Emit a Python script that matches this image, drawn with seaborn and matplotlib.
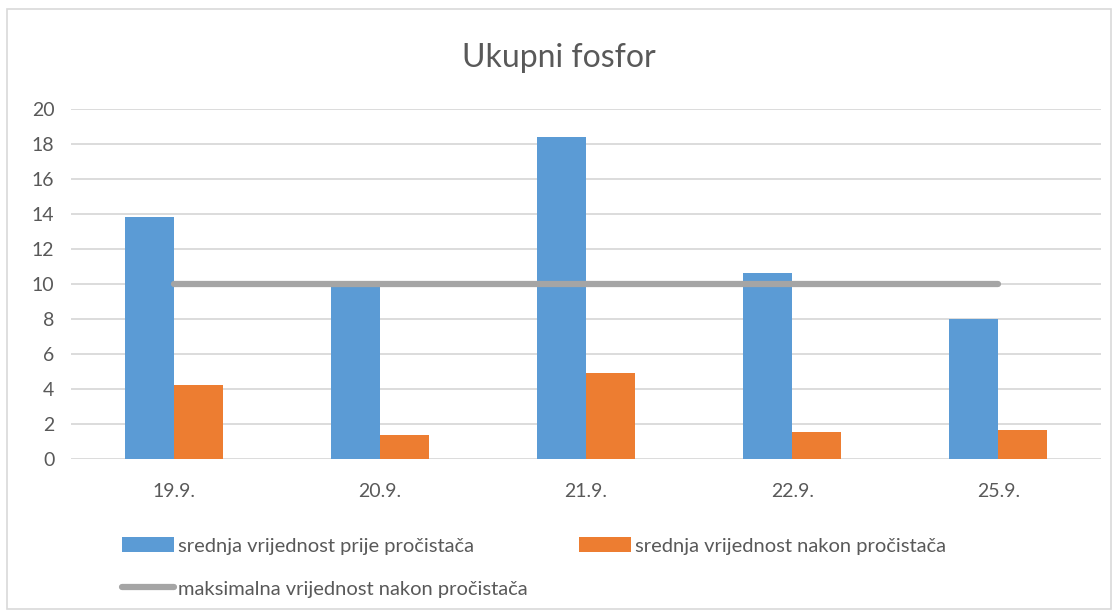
import matplotlib
matplotlib.use("Agg")
import matplotlib.pyplot as plt
import seaborn as sns
import pandas as pd
from matplotlib.patches import Patch, Rectangle
from matplotlib.lines import Line2D

dates = ["19.9.", "20.9.", "21.9.", "22.9.", "25.9."]
prije = [13.8, 9.85, 18.38, 10.6, 8.0]
nakon = [4.23, 1.37, 4.9, 1.52, 1.68]
maks = [10, 10, 10, 10, 10]
s1 = "srednja vrijednost prije pročistača"
s2 = "srednja vrijednost nakon pročistača"
s3 = "maksimalna vrijednost nakon pročistača"
yticks = [0, 2, 4, 6, 8, 10, 12, 14, 16, 18, 20]

BLUE, ORANGE, GRAY = "#5B9BD5", "#ED7D31", "#A5A5A5"
TXT = "#595959"

sns.set_theme(style="white")
plt.rcParams["font.family"] = ["Lato", "DejaVu Sans"]

df = pd.DataFrame({
    "date": dates * 2,
    "serija": [s1] * len(dates) + [s2] * len(dates),
    "vrijednost": prije + nakon,
})

fig = plt.figure(figsize=(11.18, 6.15), dpi=100)
ax = fig.add_axes([0.0635, 0.2537, 0.9215, 0.5691])

ax.yaxis.grid(True, color="#D9D9D9", linewidth=1.3)
ax.set_axisbelow(True)
sns.barplot(data=df, x="date", y="vrijednost", hue="serija", order=dates,
            palette=[BLUE, ORANGE], saturation=1, width=0.476, gap=0, ax=ax,
            edgecolor="none", linewidth=0, legend=False, errorbar=None)
ax.plot(range(len(dates)), maks, color=GRAY, linewidth=4.5,
        solid_capstyle="round", zorder=5)

ax.set_ylim(0, 20)
ax.set_xlim(-0.5, len(dates) - 0.5)
ax.set_yticks(yticks)
ax.set_yticklabels([str(v) for v in yticks])
ax.set_xlabel("")
ax.set_ylabel("")
for s in ax.spines.values():
    s.set_visible(False)
ax.tick_params(axis="both", length=0, labelsize=14, colors=TXT)
ax.tick_params(axis="x", pad=17)
ax.tick_params(axis="y", pad=12)

fig.text(0.5, 0.905, "Ukupni fosfor", ha="center", va="center",
         fontsize=23, color=TXT)

handles = [Patch(facecolor=BLUE, edgecolor="none"),
           Line2D([0], [0], color=GRAY, linewidth=4.5, solid_capstyle="round"),
           Patch(facecolor=ORANGE, edgecolor="none")]
labels = [s1, s3, s2]
leg = fig.legend(handles, labels, ncol=2, loc="upper left",
                 bbox_to_anchor=(0.1015, 0.14), frameon=False,
                 fontsize=14.5, labelcolor=TXT, handlelength=2.6,
                 handleheight=0.8, handletextpad=0.2, columnspacing=2.55,
                 labelspacing=1.25, borderaxespad=0)

fig.patches.append(Rectangle((0.006, 0.01), 0.988, 0.975, transform=fig.transFigure,
                             fill=False, edgecolor="#D9D9D9", linewidth=1.2))

fig.savefig("out.png", dpi=100)
